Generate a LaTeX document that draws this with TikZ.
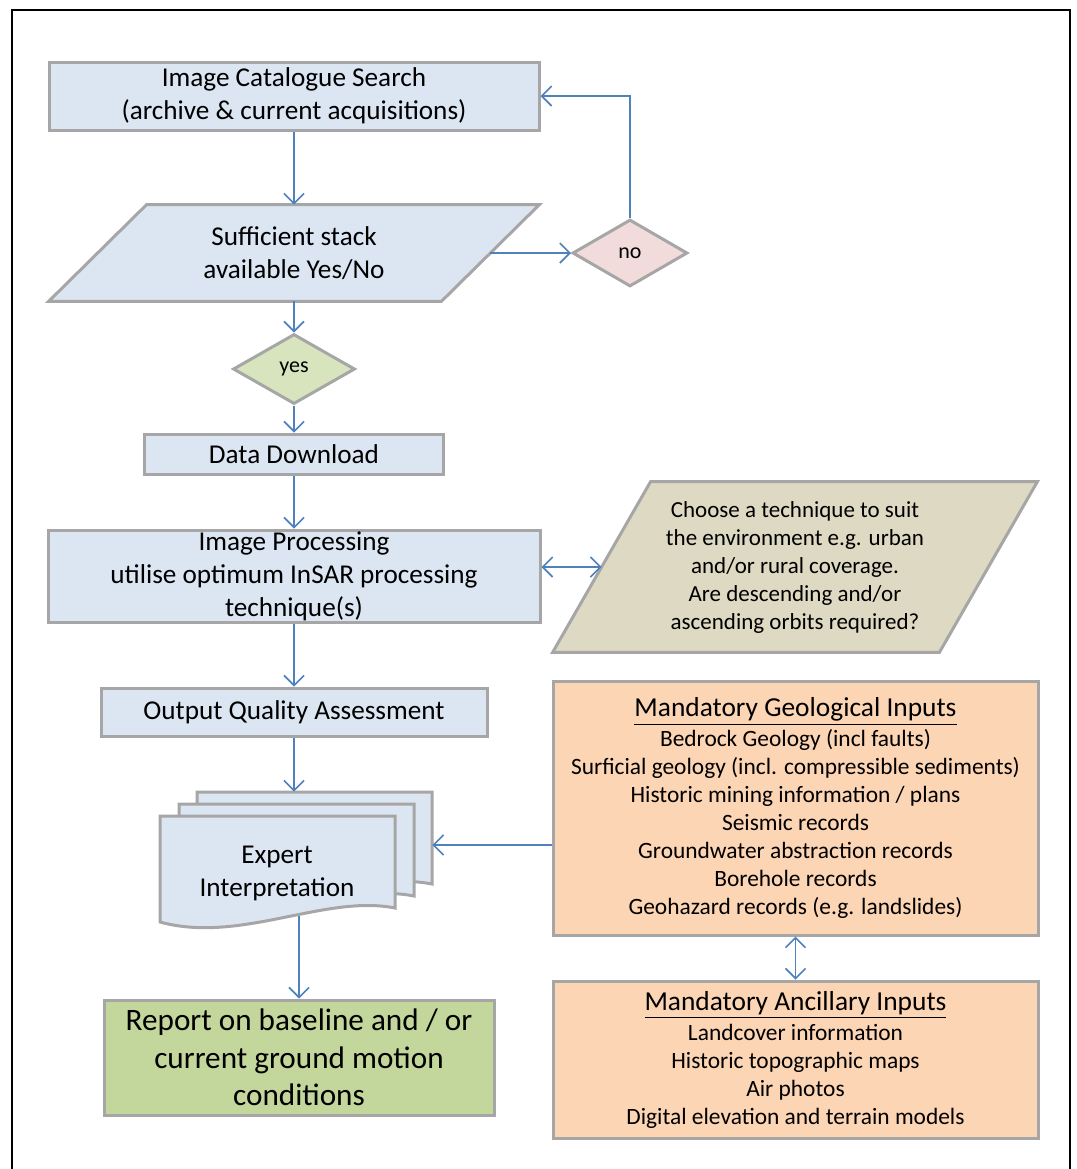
\documentclass[tikz,border=0pt]{standalone}
\usepackage{fontspec}
\setmainfont{Carlito}
\usetikzlibrary{shapes.geometric, arrows.meta}

\definecolor{boxgray}{RGB}{166,166,166}
\definecolor{boxblue}{RGB}{220,230,242}
\definecolor{nopink}{RGB}{242,220,219}
\definecolor{yesgreen}{RGB}{215,228,189}
\definecolor{choosetan}{RGB}{221,217,195}
\definecolor{inputorange}{RGB}{252,213,181}
\definecolor{reportgreen}{RGB}{195,214,155}
\definecolor{arrblue}{RGB}{79,129,189}

\newcommand\inputhead[1]{{\fontsize{13.7}{14}\selectfont\underline{#1}}}

\pgfdeclarelayer{bg}
\pgfsetlayers{bg,main}

\tikzset{
  flowbox/.style={
    draw=boxgray,
    line width=1.5pt,
    fill=boxblue,
    align=center,
    inner sep=0pt,
    font=\fontsize{13.6}{16.5}\selectfont
  },
  slantbox/.style={
    align=center,
    inner sep=0pt,
    font=\fontsize{13.6}{16.5}\selectfont
  },
  slantedge/.style={
    draw=boxgray,
    line width=1.5pt,
    line join=miter
  },
  decision/.style={
    diamond,
    draw=boxgray,
    line width=1.5pt,
    inner sep=0pt,
    font=\fontsize{11}{12}\selectfont
  },
  inputbox/.style={
    flowbox,
    fill=inputorange,
    font=\fontsize{11.7}{14}\selectfont
  },
  docpage/.style={
    draw=boxgray,
    line width=1.5pt,
    fill=boxblue
  },
  arr/.style={
    draw=arrblue,
    line width=0.8pt,
    -{Straight Barb[length=5pt,width=10pt]}
  },
  biarr/.style={
    arr,
    {Straight Barb[length=5pt,width=10pt]}-{Straight Barb[length=5pt,width=10pt]}
  }
}

\begin{document}
\begin{tikzpicture}[x=0.5pt, y=-0.5pt]
  \useasboundingbox (0,0) rectangle (1077,1169);
  % outer frame
  \draw[line width=1.2pt] (12,1185) |- (1070,10) -- (1070,1185);

  % left column
  \node[flowbox, minimum width=245pt, minimum height=34pt] (search) at (294,96)
    {Image Catalogue Search\\(archive \& current acquisitions)};
  \node[slantbox, minimum width=245pt, minimum height=48pt] (stack) at (294,253)
    {Sufficient stack\\available Yes/No};
  \node[decision, fill=nopink, minimum width=57.5pt, minimum height=33.5pt] (no) at (630,253) {no};
  \node[decision, fill=yesgreen, minimum width=61pt, minimum height=35pt] (yes) at (294,369) {yes};
  \node[flowbox, minimum width=149.5pt, minimum height=20pt] (download) at (294,454) {Data Download};
  \node[flowbox, minimum width=246pt, minimum height=46pt] (process) at (294,576)
    {Image Processing\\utilise optimum InSAR processing\\technique(s)};
  \node[slantbox, font=\fontsize{11.5}{14}\selectfont,
        minimum width=242pt, minimum height=85pt] (choose) at (795,567)
    {Choose a technique to suit\\the environment e.g. urban\\and/or rural coverage.\\Are descending and/or\\ascending orbits required?};
  \begin{pgfonlayer}{bg}
    \draw[slantedge, fill=boxblue] ([xshift=49pt]stack.north west) -- (stack.north east)
      -- ([xshift=-49pt]stack.south east) -- (stack.south west) -- cycle;
    \draw[slantedge, fill=choosetan] ([xshift=49pt]choose.north west) -- (choose.north east)
      -- ([xshift=-49pt]choose.south east) -- (choose.south west) -- cycle;
  \end{pgfonlayer}
  \node[flowbox, minimum width=193pt, minimum height=24pt] (quality) at (294,712) {Output Quality Assessment};

  % stacked document pages
  \foreach \pg/\px/\py in {pgc/197/792, pgb/179/804, pga/160/816}{
    \draw[docpage] (\px,\py) -- ++(235,0) -- ++(0,92)
      .. controls +(-70,-14) and +(80,22) .. ++(-235,14) -- cycle;
    \node[minimum width=117.5pt, minimum height=53pt, inner sep=0pt] (\pg) at (\px+117.5,\py+53) {};
  }
  \node[align=center, font=\fontsize{13.6}{16.5}\selectfont] (expert) at (277,873) {Expert\\Interpretation};

  \node[flowbox, fill=reportgreen, font=\fontsize{15.6}{18.75}\selectfont,
        minimum width=195pt, minimum height=57.5pt] (report) at (299,1057.5)
    {Report on baseline and / or\\current ground motion\\conditions};

  % right column
  \node[inputbox, minimum width=242.5pt, minimum height=127pt] (geology) at (795.5,808)
    {\inputhead{Mandatory Geological Inputs}\\[1pt]
     Bedrock Geology (incl faults)\\
     Surficial geology (incl. compressible sediments)\\
     Historic mining information / plans\\
     Seismic records\\
     Groundwater abstraction records\\
     Borehole records\\
     Geohazard records (e.g. landslides)};
  \node[inputbox, minimum width=242.5pt, minimum height=78.5pt] (ancillary) at (795.5,1059.5)
    {\inputhead{Mandatory Ancillary Inputs}\\[1pt]
     Landcover information\\
     Historic topographic maps\\
     Air photos\\
     Digital elevation and terrain models};

  % connectors
  \draw[arr] (search) -- (stack);
  \draw[arr] ([xshift=-24.5pt]stack.east) -- (no);
  \draw[arr] (no.north) |- (search.east);
  \draw[arr] (stack) -- (yes);
  \draw[arr] (yes) -- (download);
  \draw[arr] (download) -- (process);
  \draw[biarr] (process.east |- choose.center) -- ([xshift=24.5pt]choose.west);
  \draw[arr] (process) -- (quality);
  \draw[arr] (quality) -- (quality |- pgc.north);
  \draw[arr] (geology.west |- pgc.east) -- (pgc.east);
  \begin{pgfonlayer}{bg}
    \draw[arr] (report |- pga.center) -- (report);
  \end{pgfonlayer}
  \draw[biarr] (geology) -- (ancillary);
\end{tikzpicture}
\end{document}
